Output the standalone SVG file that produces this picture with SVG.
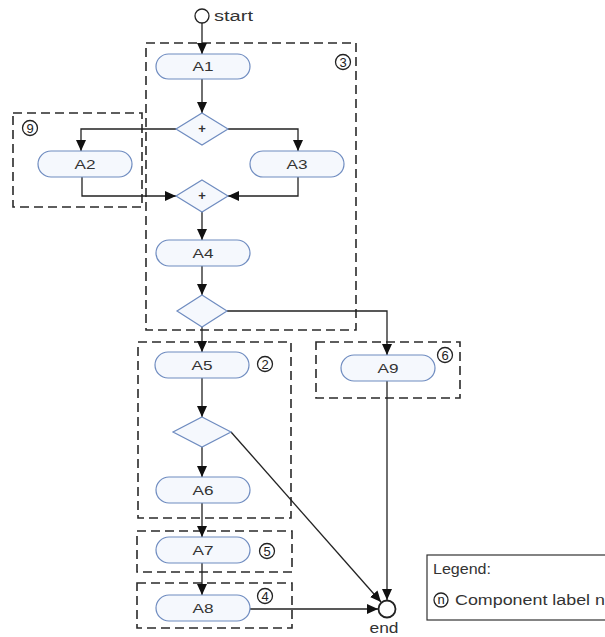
<svg xmlns="http://www.w3.org/2000/svg" width="605" height="637" viewBox="0 0 605 637">
<defs>
<marker id="arr" markerUnits="userSpaceOnUse" markerWidth="11" markerHeight="10" refX="11" refY="5" orient="auto">
<path d="M0,0 L11,5 L0,10 z" fill="#111"/>
</marker>
</defs>
<style>
text{font-family:"Liberation Sans",Arial,sans-serif;fill:#333}
.pill{fill:#f5f8fd;stroke:#6f8cc0;stroke-width:1.2}
.dia{fill:#f5f8fd;stroke:#6f8cc0;stroke-width:1.2}
.lbl{font-size:13px;text-anchor:middle}
.grp{fill:none;stroke:#2a2a2a;stroke-width:1.6;stroke-dasharray:9 5}
.num{fill:none;stroke:#222;stroke-width:1.3}
.nt{font-size:13px;text-anchor:middle;fill:#222}
.con{fill:none;stroke:#222;stroke-width:1.3}
.arr{marker-end:url(#arr)}
</style>
<rect width="605" height="637" fill="#fff"/>

<g id="groups">
<g id="group3"><rect class="grp" x="146" y="43" width="210" height="287"/><circle class="num" cx="343" cy="62" r="7.5"/><text class="nt" x="343" y="66.5">3</text></g>
<g id="group9"><rect class="grp" x="13" y="113" width="129" height="94"/><circle class="num" cx="30" cy="128" r="7.5"/><text class="nt" x="30" y="132.5">9</text></g>
<g id="group2"><rect class="grp" x="138" y="342" width="153" height="176"/><circle class="num" cx="265" cy="364" r="7.5"/><text class="nt" x="265" y="368.5">2</text></g>
<g id="group6"><rect class="grp" x="316" y="342" width="144" height="56"/><circle class="num" cx="445" cy="355" r="7.5"/><text class="nt" x="445" y="359.5">6</text></g>
<g id="group5"><rect class="grp" x="137" y="531" width="155" height="41"/><circle class="num" cx="267" cy="551" r="7.5"/><text class="nt" x="267" y="555.5">5</text></g>
<g id="group4"><rect class="grp" x="137" y="583" width="155" height="45"/><circle class="num" cx="265" cy="596" r="7.5"/><text class="nt" x="265" y="600.5">4</text></g>
</g>

<g id="connectors">
<line class="con arr" x1="202" y1="23" x2="202" y2="54"/>
<line class="con arr" x1="202" y1="79" x2="202" y2="113"/>
<path class="con arr" d="M176,129 H81 V151"/>
<path class="con arr" d="M228,129 H298 V151"/>
<path class="con arr" d="M82,177 V196 H176"/>
<path class="con arr" d="M298,177 V196 H228"/>
<line class="con arr" x1="202" y1="212" x2="202" y2="240"/>
<line class="con arr" x1="202" y1="266" x2="202" y2="295"/>
<path class="con arr" d="M227,311 H387 V355"/>
<line class="con arr" x1="202" y1="327" x2="202" y2="352"/>
<line class="con arr" x1="202" y1="378" x2="202" y2="417"/>
<line class="con arr" x1="202" y1="447" x2="202" y2="477"/>
<line class="con arr" x1="202" y1="503" x2="202" y2="537"/>
<line class="con arr" x1="202" y1="563" x2="202" y2="595"/>
<line class="con arr" x1="250" y1="609" x2="378" y2="609"/>
<line class="con arr" x1="231" y1="432" x2="381" y2="602"/>
<line class="con arr" x1="387" y1="381" x2="387" y2="600"/>
</g>

<g id="start"><circle cx="202" cy="16" r="7" fill="#fff" stroke="#222" stroke-width="1.3"/><text x="214" y="21" font-size="14" textLength="39" lengthAdjust="spacingAndGlyphs">start</text></g>
<g id="A1"><rect class="pill" x="156" y="54" width="94" height="25" rx="12.5"/><text class="lbl" x="203" y="71" textLength="21" lengthAdjust="spacingAndGlyphs">A1</text></g>
<g id="D1"><polygon class="dia" points="202,113 228,129 202,145 176,129"/><text class="lbl" x="202" y="133" font-weight="bold">+</text></g>
<g id="A2"><rect class="pill" x="38" y="151" width="94" height="26" rx="13"/><text class="lbl" x="85" y="168.5" textLength="21" lengthAdjust="spacingAndGlyphs">A2</text></g>
<g id="A3"><rect class="pill" x="250" y="151" width="94" height="26" rx="13"/><text class="lbl" x="297" y="168.5" textLength="21" lengthAdjust="spacingAndGlyphs">A3</text></g>
<g id="D2"><polygon class="dia" points="202,180 228,196 202,212 176,196"/><text class="lbl" x="202" y="200" font-weight="bold">+</text></g>
<g id="A4"><rect class="pill" x="156" y="240" width="94" height="26" rx="13"/><text class="lbl" x="203" y="257.5" textLength="21" lengthAdjust="spacingAndGlyphs">A4</text></g>
<g id="D3"><polygon class="dia" points="202,295 227,311 202,327 177,311"/></g>
<g id="A5"><rect class="pill" x="155" y="352" width="94" height="26" rx="13"/><text class="lbl" x="202" y="369.5" textLength="21" lengthAdjust="spacingAndGlyphs">A5</text></g>
<g id="D4"><polygon class="dia" points="202,417 231,432 202,447 173,432"/></g>
<g id="A6"><rect class="pill" x="156" y="477" width="94" height="26" rx="13"/><text class="lbl" x="203" y="494.5" textLength="21" lengthAdjust="spacingAndGlyphs">A6</text></g>
<g id="A7"><rect class="pill" x="156" y="537" width="94" height="26" rx="13"/><text class="lbl" x="203" y="554.5" textLength="21" lengthAdjust="spacingAndGlyphs">A7</text></g>
<g id="A8"><rect class="pill" x="156" y="595" width="94" height="26" rx="13"/><text class="lbl" x="203" y="612.5" textLength="21" lengthAdjust="spacingAndGlyphs">A8</text></g>
<g id="A9"><rect class="pill" x="341" y="355" width="94" height="26" rx="13"/><text class="lbl" x="388" y="372.5" textLength="21" lengthAdjust="spacingAndGlyphs">A9</text></g>
<g id="end"><circle cx="387" cy="609" r="8.5" fill="#fff" stroke="#222" stroke-width="1.8"/><text x="384" y="633" font-size="14" text-anchor="middle" textLength="29" lengthAdjust="spacingAndGlyphs">end</text></g>

<g id="legend">
<rect x="427" y="555" width="200" height="65" fill="#fff" stroke="#333" stroke-width="1.2"/>
<text x="433" y="574" font-size="14" textLength="58" lengthAdjust="spacingAndGlyphs">Legend:</text>
<circle class="num" cx="441" cy="600" r="7"/><text class="nt" x="441" y="603.5" font-size="11">n</text>
<text x="455" y="605" font-size="14" textLength="150" lengthAdjust="spacingAndGlyphs">Component label n</text>
</g>
</svg>
